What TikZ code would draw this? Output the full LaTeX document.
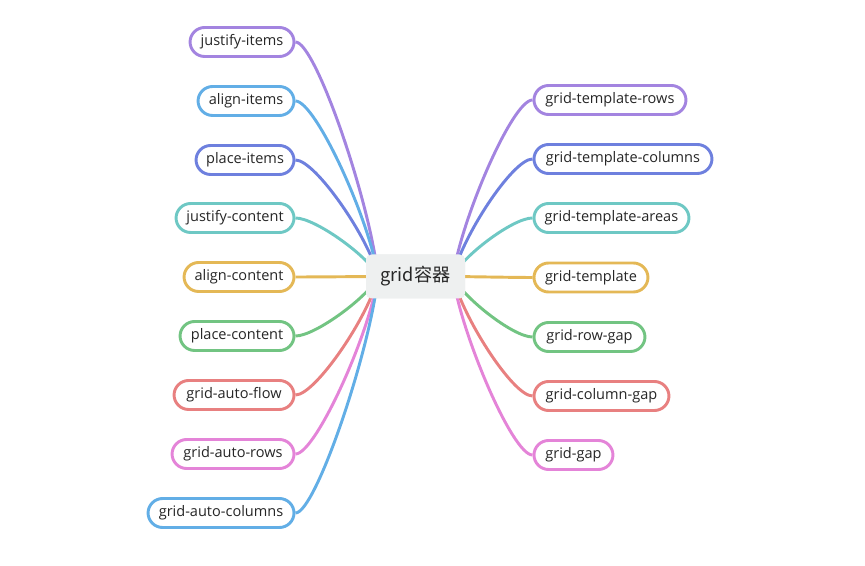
\documentclass[tikz,border=0pt]{standalone}
\usepackage{fontspec}
\setmainfont{Open Sans}
\newfontfamily\cjkfont{Noto Sans CJK SC}
\usetikzlibrary{positioning}

\definecolor{cpurple}{HTML}{A384E0}
\definecolor{cblue}{HTML}{62AEE6}
\definecolor{cindigo}{HTML}{6E80DE}
\definecolor{cteal}{HTML}{6EC8C4}
\definecolor{cgold}{HTML}{E4B856}
\definecolor{cgreen}{HTML}{72C482}
\definecolor{cred}{HTML}{E88080}
\definecolor{cpink}{HTML}{E484D8}
\definecolor{rootgray}{HTML}{EEF0F0}

\begin{document}
\begin{tikzpicture}[
    x=0.75pt, y=-0.75pt,
    leaf/.style={rectangle, draw, line width=2.2pt, fill=white, rounded corners=11pt,
        minimum height=21.75pt, inner xsep=0pt, inner ysep=0pt, font=\fontsize{10.9}{12}\selectfont, text=black!85},
    rootbox/.style={rectangle, fill=rootgray, rounded corners=4pt, minimum width=74.25pt, minimum height=33pt,
        font=\cjkfont\fontsize{13.6}{15}\selectfont, text=black!85},
    branch/.style={line width=2.2pt}
]
\useasboundingbox (0,0) rectangle (865,566);

% Root
\node[rootbox] (root) at (415.5,276.5) {grid容器};
\coordinate (rootL) at (378,276.5);
\coordinate (rootR) at (453,276.5);

% Left leaves
\node[leaf, draw=cpurple, minimum width=78pt, anchor=east] (justifyitems) at (295.5,42) {justify-items};
\node[leaf, draw=cblue, minimum width=72pt, anchor=east] (alignitems) at (295.5,101) {align-items};
\node[leaf, draw=cindigo, minimum width=73.5pt, anchor=east] (placeitems) at (295.5,160) {place-items};
\node[leaf, draw=cteal, minimum width=88.5pt, anchor=east] (justifycontent) at (295.5,218) {justify-content};
\node[leaf, draw=cgold, minimum width=82.5pt, anchor=east] (aligncontent) at (295.5,277) {align-content};
\node[leaf, draw=cgreen, minimum width=85.5pt, anchor=east] (placecontent) at (295.5,336) {place-content};
\node[leaf, draw=cred, minimum width=90pt, anchor=east] (gridautoflow) at (295.5,395) {grid-auto-flow};
\node[leaf, draw=cpink, minimum width=91.5pt, anchor=east] (gridautorows) at (295.5,454) {grid-auto-rows};
\node[leaf, draw=cblue, minimum width=109.5pt, anchor=east] (gridautocolumns) at (295.5,513) {grid-auto-columns};

% Right leaves
\node[leaf, draw=cpurple, minimum width=114pt, anchor=west] (gridtemplaterows) at (532.5,100) {grid-template-rows};
\node[leaf, draw=cindigo, minimum width=133.5pt, anchor=west] (gridtemplatecolumns) at (532.5,159) {grid-template-columns};
\node[leaf, draw=cteal, minimum width=116.25pt, anchor=west] (gridtemplateareas) at (532.5,218) {grid-template-areas};
\node[leaf, draw=cgold, minimum width=85.5pt, anchor=west] (gridtemplate) at (532.5,277.5) {grid-template};
\node[leaf, draw=cgreen, minimum width=83.25pt, anchor=west] (gridrowgap) at (532.5,337) {grid-row-gap};
\node[leaf, draw=cred, minimum width=101.25pt, anchor=west] (gridcolumngap) at (532.5,396) {grid-column-gap};
\node[leaf, draw=cpink, minimum width=59.25pt, anchor=west] (gridgap) at (532.5,455) {grid-gap};

% Branches
\draw[branch, cpurple] (rootL) .. controls +(-8,-75) and +(20,0) .. (justifyitems.east);
\draw[branch, cblue] (rootL) .. controls +(-8,-56) and +(20,0) .. (alignitems.east);
\draw[branch, cindigo] (rootL) .. controls +(-8,-37) and +(20,0) .. (placeitems.east);
\draw[branch, cteal] (rootL) .. controls +(-8,-19) and +(20,0) .. (justifycontent.east);
\draw[branch, cgold] (rootL) .. controls +(-8,0) and +(20,0) .. (aligncontent.east);
\draw[branch, cgreen] (rootL) .. controls +(-8,19) and +(20,0) .. (placecontent.east);
\draw[branch, cred] (rootL) .. controls +(-8,38) and +(20,0) .. (gridautoflow.east);
\draw[branch, cpink] (rootL) .. controls +(-8,57) and +(20,0) .. (gridautorows.east);
\draw[branch, cblue] (rootL) .. controls +(-8,75) and +(20,0) .. (gridautocolumns.east);

\draw[branch, cpurple] (rootR) .. controls +(8,-57) and +(-20,0) .. (gridtemplaterows.west);
\draw[branch, cindigo] (rootR) .. controls +(8,-38) and +(-20,0) .. (gridtemplatecolumns.west);
\draw[branch, cteal] (rootR) .. controls +(8,-19) and +(-20,0) .. (gridtemplateareas.west);
\draw[branch, cgold] (rootR) .. controls +(8,0) and +(-20,0) .. (gridtemplate.west);
\draw[branch, cgreen] (rootR) .. controls +(8,19) and +(-20,0) .. (gridrowgap.west);
\draw[branch, cred] (rootR) .. controls +(8,38) and +(-20,0) .. (gridcolumngap.west);
\draw[branch, cpink] (rootR) .. controls +(8,57) and +(-20,0) .. (gridgap.west);

% Root again, over the branch ends
\node[rootbox] at (root) {grid容器};
\end{tikzpicture}
\end{document}
